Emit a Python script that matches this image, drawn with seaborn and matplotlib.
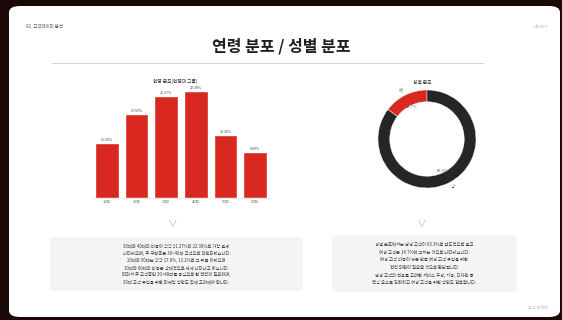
import matplotlib
matplotlib.use("Agg")
import matplotlib.pyplot as plt
from matplotlib.patches import FancyBboxPatch
import pandas as pd
import seaborn as sns

# data
age_groups = ["10대", "20대", "30대", "40대", "50대", "60대"]
age_share = [11.5, 17.6, 21.27, 22.38, 13.2, 9.6]
gender_labels = ["여", "남"]
gender_share = [14.7, 85.3]

RED = "#d8281f"
DARK = "#262626"

sns.set_theme(style="white")
plt.rcParams["font.family"] = ["Noto Sans CJK KR", "DejaVu Sans"]

W, H = 562, 320
fig = plt.figure(figsize=(W / 100, H / 100), dpi=100)
fig.patch.set_facecolor("#1b0907")


def fx(px):
    return px / W


def fy(py):
    return 1 - py / H


# white slide card
card = FancyBboxPatch((fx(9), fy(317)), fx(560) - fx(9), fy(6) - fy(317),
                      boxstyle="round,pad=0,rounding_size=0.02",
                      transform=fig.transFigure, facecolor="white",
                      edgecolor="none", zorder=-2)
fig.patches.append(card)

fig.text(fx(26), fy(26), "02. 고객데이터 분석", fontsize=3.2, color="#555555", va="center")
fig.text(fx(548), fy(26), "ubcare", fontsize=3.2, color="#bbbbbb", va="center", ha="right")
fig.text(fx(281), fy(46), "연령 분포 / 성별 분포", fontsize=11.5, fontweight="heavy",
         color="#1e1e1e", ha="center", va="center")
fig.add_artist(plt.Line2D([fx(52), fx(483)], [fy(63), fy(63)], color="#cccccc", lw=0.6))

# age bar chart
df_age = pd.DataFrame({"age": age_groups, "share": age_share})
ax1 = fig.add_axes([fx(92), fy(198), fx(270) - fx(92), fy(86) - fy(198)])
ax1.set_zorder(2)
sns.barplot(data=df_age, x="age", y="share", color=RED, width=0.8, ax=ax1,
            saturation=1)
ax1.set_ylim(0, 22.38 * 112 / 107)
ax1.set_xlim(-0.5, 5.5)
for i, v in enumerate(age_share):
    ax1.text(i, v + 0.2, f"{v:.2f}%", fontsize=2.6, ha="center", va="bottom", color="#444444")
ax1.set_xlabel("")
ax1.set_ylabel("")
ax1.set_yticks([])
ax1.tick_params(axis="x", labelsize=2.8, length=0, pad=1.5, colors="#666666")
sns.despine(ax=ax1, left=True, bottom=False)
ax1.spines["bottom"].set_color("#dddddd")
ax1.spines["bottom"].set_linewidth(0.4)
fig.text(fx(175), fy(81), "연령 분포(연령대 그룹)", fontsize=3.4, ha="center", va="center",
         color="#333333")

# gender donut
r_px = 49
side = 2.5 * r_px
ax2 = fig.add_axes([fx(427 - side / 2), fy(139 + side / 2), side / W, side / H])
ax2.set_zorder(2)
wedges, texts, autotexts = ax2.pie(
    gender_share, labels=gender_labels, colors=[RED, DARK], startangle=90,
    autopct="%.1f%%", pctdistance=0.72, labeldistance=1.1,
    wedgeprops=dict(width=0.24, edgecolor="white", linewidth=0.3),
    textprops=dict(fontsize=3, color="#555555"))
ax2.set_xlim(-1.25, 1.25)
ax2.set_ylim(-1.25, 1.25)
for t in autotexts:
    t.set_fontsize(3)
    t.set_color("#666666")
fig.text(fx(422), fy(82), "성별 분포", fontsize=3.4, ha="center", va="center", color="#333333")

# chevrons
for cx in (173, 422):
    fig.text(fx(cx), fy(224), "∨", fontsize=7, ha="center", va="center", color="#c0c0c0")

# description boxes
boxes = [
    (50, 237, 303, 291, [
        "30대와 40대의 비중이 각각 21.27%와 22.38%로 가장 높게",
        "나타났으며, 주 구매층은 30~40대 고객으로 확인되었습니다.",
        "20대와 50대는 각각 17.6%, 13.2%로 그 뒤를 이었으며",
        "10대와 60대의 비중은 상대적으로 낮게 나타나고 있습니다.",
        "따라서 주 고객층인 30~40대를 중심으로 한 전략이 필요하며,",
        "20대 고객 유입을 위한 마케팅 방안도 함께 고려해야 합니다.",
    ]),
    (332, 235, 517, 292, [
        "성별 분포에서는 남성 고객이 85.3%로 압도적으로 높고",
        "여성 고객은 14.7%에 그치는 것으로 나타났습니다.",
        "여성 고객 비중이 낮은 만큼 여성 고객 유입을 위한",
        "전략 마련이 필요할 것으로 판단됩니다.",
        "남성 고객의 선호를 고려한 서비스 구성, 기능, 디자인 등",
        "핵심 요소를 강화하고 여성 고객을 위한 방안도 검토합니다.",
    ]),
]
for x0, y0, x1, y1, lines in boxes:
    fig.patches.append(FancyBboxPatch(
        (fx(x0), fy(y1)), fx(x1) - fx(x0), fy(y0) - fy(y1),
        boxstyle="round,pad=0,rounding_size=0.01", transform=fig.transFigure,
        facecolor="#f4f4f4", edgecolor="none", zorder=-1))
    n = len(lines)
    top = y0 + 9
    step = (y1 - y0 - 18) / (n - 1)
    for k, line in enumerate(lines):
        fig.text(fx((x0 + x1) / 2), fy(top + k * step), line, fontsize=3.1,
                 ha="center", va="center", color="#3a3a3a")

fig.text(fx(548), fy(307), "고객 데이터", fontsize=3, color="#bbbbbb", ha="right", va="center")

fig.savefig("out.png", dpi=100, facecolor=fig.get_facecolor())
